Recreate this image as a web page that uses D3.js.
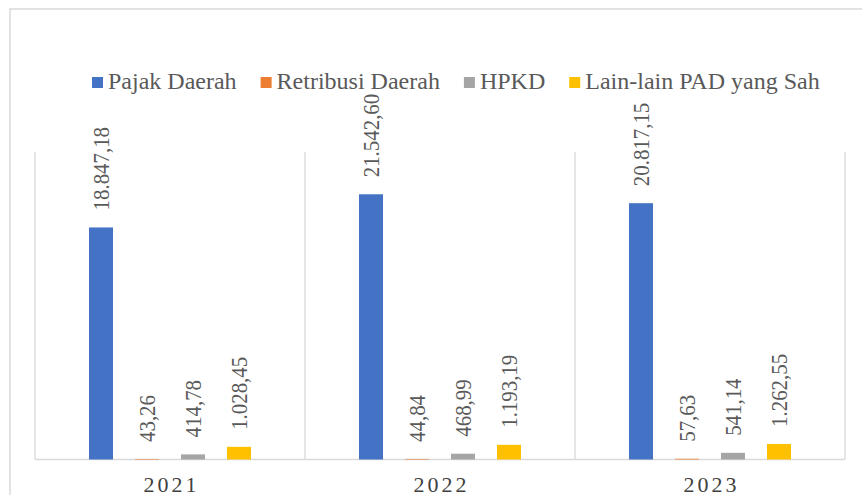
<!DOCTYPE html>
<meta charset="utf-8">
<style>
body { margin: 0; background: #fff; }
text { font-family: "Times New Roman", "Liberation Serif", "DejaVu Serif", serif; }
.grid line { stroke: #d9d9d9; stroke-width: 1.3px; }
.label { fill: #595959; font-size: 24px; }
.year { fill: #404040; font-size: 22px; letter-spacing: 3px; }
.legend text { fill: #595959; font-size: 24px; }
</style>
<svg width="862" height="495"></svg>
<script src="https://d3js.org/d3.v7.min.js"></script>
<script>

var years = ["2021", "2022", "2023"];
var series = ["Pajak Daerah", "Retribusi Daerah", "HPKD", "Lain-lain PAD yang Sah"];
var colors = ["#4472C4", "#ED7D31", "#A5A5A5", "#FFC000"];

// values per series, one per year
var pajak = [18847.18, 21542.60, 20817.15];
var retribusi = [43.26, 44.84, 57.63];
var hpkd = [414.78, 468.99, 541.14];
var lainLain = [1028.45, 1193.19, 1262.55];

var labelsPajak = ["18.847,18", "21.542,60", "20.817,15"];
var labelsRetribusi = ["43,26", "44,84", "57,63"];
var labelsHpkd = ["414,78", "468,99", "541,14"];
var labelsLain = ["1.028,45", "1.193,19", "1.262,55"];

var values = [pajak, retribusi, hpkd, lainLain];
var labels = [labelsPajak, labelsRetribusi, labelsHpkd, labelsLain];

var svg = d3.select("svg");

// outer chart frame
svg.append("rect")
    .attr("x", 10).attr("y", 9)
    .attr("width", 900).attr("height", 520)
    .attr("fill", "none")
    .attr("stroke", "#d9d9d9")
    .attr("stroke-width", 1.5);

var plot = {left: 35, right: 845, top: 151.7, bottom: 459.5};

var x0 = d3.scaleBand().domain(years).range([plot.left, plot.right]).padding(0);
var x1 = d3.scaleBand().domain(series).range([0, x0.bandwidth()])
    .paddingInner(0.478).paddingOuter(1.174);
var y = d3.scaleLinear().domain([0, 25000]).range([plot.bottom, plot.top]);

// vertical separators between categories
var grid = svg.append("g").attr("class", "grid");
var edges = years.map(function(d) { return x0(d); }).concat([x0(years[years.length - 1]) + x0.bandwidth()]);
grid.selectAll("line.v")
    .data(edges)
  .enter().append("line")
    .attr("class", "v")
    .attr("x1", function(d) { return d; })
    .attr("x2", function(d) { return d; })
    .attr("y1", y(25000))
    .attr("y2", y(0));

grid.append("line")
    .attr("x1", plot.left).attr("x2", plot.right)
    .attr("y1", y(0)).attr("y2", y(0));

// bars
var flat = [];
series.forEach(function(s, i) {
  years.forEach(function(yr, j) {
    flat.push({series: s, year: yr, value: values[i][j], label: labels[i][j], color: colors[i]});
  });
});

var g = svg.append("g");

g.selectAll("rect.bar")
    .data(flat)
  .enter().append("rect")
    .attr("class", "bar")
    .attr("x", function(d) { return x0(d.year) + x1(d.series); })
    .attr("y", function(d) { return y(d.value); })
    .attr("width", x1.bandwidth())
    .attr("height", function(d) { return y(0) - y(d.value); })
    .attr("fill", function(d) { return d.color; });

// rotated value labels, a bit condensed along the text like the original
g.selectAll("text.label")
    .data(flat)
  .enter().append("text")
    .attr("class", "label")
    .attr("transform", function(d) {
      var cx = x0(d.year) + x1(d.series) + x1.bandwidth() / 2;
      var cy = y(d.value) - 17;
      return "translate(" + cx + "," + cy + ") rotate(-90) scale(0.87,1)";
    })
    .attr("dy", "0.35em")
    .text(function(d) { return d.label; });

// year labels
svg.selectAll("text.year")
    .data(years)
  .enter().append("text")
    .attr("class", "year")
    .attr("x", function(d) { return x0(d) + x0.bandwidth() / 2 + 1.5; })
    .attr("y", 492)
    .attr("text-anchor", "middle")
    .text(function(d) { return d; });

// legend
var legend = svg.append("g").attr("class", "legend");
var lx = 92;
series.forEach(function(s, i) {
  legend.append("rect")
      .attr("x", lx).attr("y", 77)
      .attr("width", 11).attr("height", 11)
      .attr("fill", colors[i]);
  var t = legend.append("text")
      .attr("x", lx + 16).attr("y", 89)
      .text(s);
  lx += 16 + t.node().getComputedTextLength() + 24;
});

</script>
